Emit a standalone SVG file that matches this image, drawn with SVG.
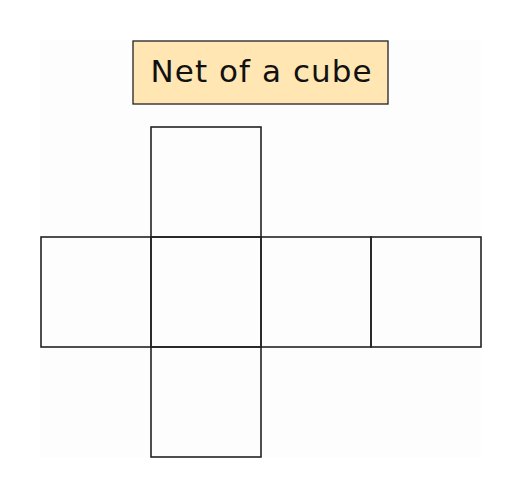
<svg xmlns="http://www.w3.org/2000/svg" width="522" height="498" viewBox="0 0 522 498">
<style>
.face{fill:none;stroke:#222;stroke-width:1.6}
.title{fill:#ffe6b3;stroke:#222;stroke-width:1.3}
text{font-family:"DejaVu Sans","Liberation Sans",sans-serif;font-size:31px;fill:#111}
</style>
<rect x="0" y="0" width="522" height="498" fill="#ffffff"/>
<rect x="40" y="40" width="441" height="417" fill="#fdfdfd"/>
<g id="title">
<rect class="title" x="133" y="41" width="255" height="63"/>
<text x="261" y="82" text-anchor="middle" textLength="221" lengthAdjust="spacing">Net of a cube</text>
</g>
<g id="top"><rect class="face" x="151" y="127" width="110" height="110"/></g>
<g id="left"><rect class="face" x="41" y="237" width="110" height="110"/></g>
<g id="front"><rect class="face" x="151" y="237" width="110" height="110"/></g>
<g id="right"><rect class="face" x="261" y="237" width="110" height="110"/></g>
<g id="back"><rect class="face" x="371" y="237" width="110" height="110"/></g>
<g id="bottom"><rect class="face" x="151" y="347" width="110" height="110"/></g>
<g id="connectors"></g>
</svg>
